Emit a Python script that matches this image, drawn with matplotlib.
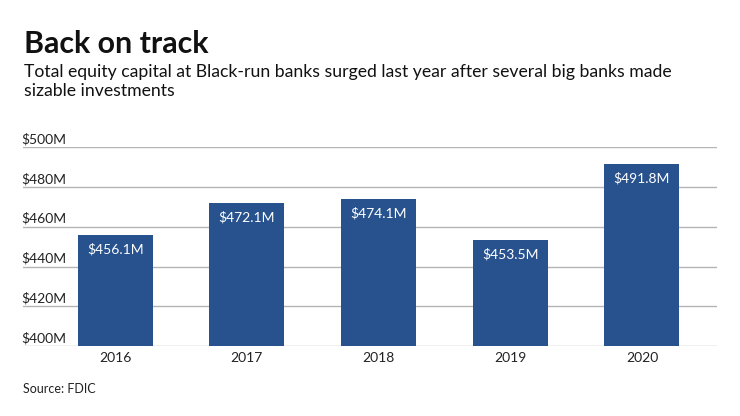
import matplotlib.pyplot as plt
from matplotlib.transforms import offset_copy

# data
years = ["2016", "2017", "2018", "2019", "2020"]
capital = [456.1, 472.1, 474.1, 453.5, 491.8]
y_ticks = [400, 420, 440, 460, 480, 500]

plt.rcParams['font.family'] = ['Lato', 'DejaVu Sans']

fig = plt.figure(figsize=(7.4, 4.16), dpi=100)
W, H = 740, 416
# axes placed in pixel coords
left, right, top, bottom = 23, 717, 147.3, 346
ax = fig.add_axes([left / W, 1 - bottom / H, (right - left) / W, (bottom - top) / H])

x = list(range(len(years)))
bars = ax.bar(x, capital, width=0.57, color="#27528e", zorder=3)

ax.set_ylim(400, 500)
ax.set_xlim(-0.70, 4.57)
for t in y_ticks:
    ax.axhline(t, color="#b4b4b4", lw=1, zorder=1)
    ax.text(-0.70, t, "$%dM" % t, transform=offset_copy(ax.transData, fig, x=-2, y=2, units='dots'),
            ha='left', va='bottom', fontsize=10, color="#222222")

for xi, v in zip(x, capital):
    ax.annotate("$%.1fM" % v, (xi, v), xytext=(0, -6), textcoords='offset points',
                ha='center', va='top', color='white', fontsize=10)

ax.set_xticks(x)
ax.set_xticklabels(years, fontsize=10, color="#222222")
ax.tick_params(axis='x', length=0, pad=4)
ax.set_yticks([])
for s in ax.spines.values():
    s.set_visible(False)

fig.text(24 / W, 1 - 53.3 / H, "Back on track", fontsize=21.9, fontweight='bold',
         color="#111111", ha='left', va='baseline')
fig.text(24 / W, 1 - 77.5 / H, "Total equity capital at Black-run banks surged last year after several big banks made",
         fontsize=12.7, color="#111111", ha='left', va='baseline')
fig.text(24 / W, 1 - 96 / H, "sizable investments",
         fontsize=12.7, color="#111111", ha='left', va='baseline')
fig.text(23 / W, 1 - 393 / H, "Source: FDIC", fontsize=9, color="#222222", ha='left', va='baseline')

fig.savefig("out.png", dpi=100)
